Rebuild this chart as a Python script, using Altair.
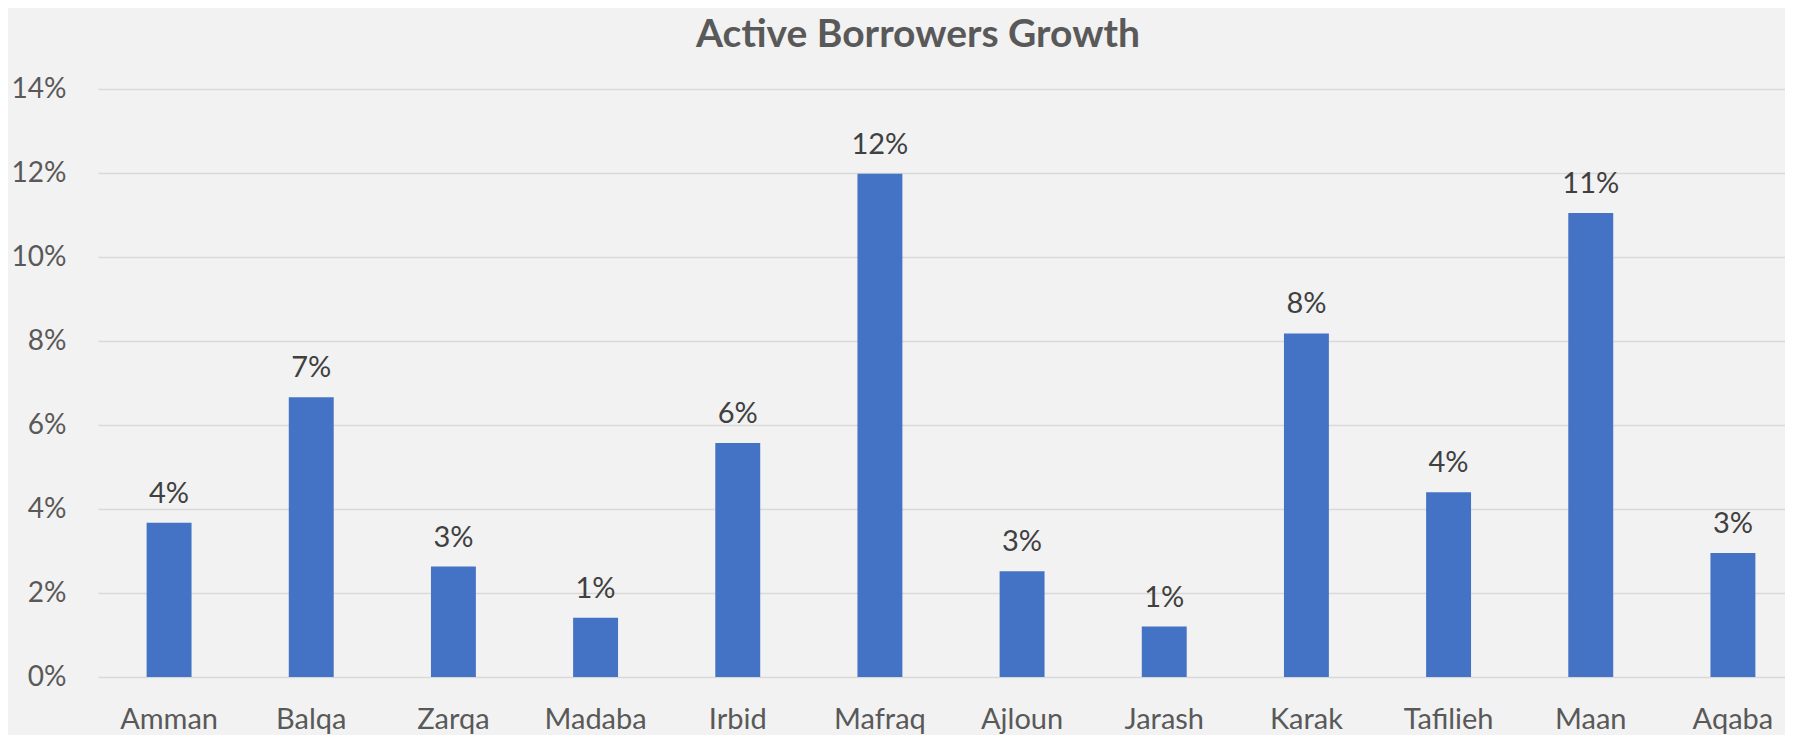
import altair as alt
import pandas as pd

regions = ["Amman", "Balqa", "Zarqa", "Madaba", "Irbid", "Mafraq",
           "Ajloun", "Jarash", "Karak", "Tafilieh", "Maan", "Aqaba"]
growth = [0.0367, 0.0666, 0.0263, 0.0141, 0.0557, 0.1198,
          0.0252, 0.0120, 0.0818, 0.0440, 0.1105, 0.0295]
y_ticks = [0, 0.02, 0.04, 0.06, 0.08, 0.10, 0.12, 0.14]
chart_title = ["Active Borrowers Growth"]

df = pd.DataFrame({"region": regions, "growth": growth})
title_df = pd.DataFrame({"t": chart_title})

FONT = "Lato"

x = alt.X(
    "region:N", sort=regions, title=None,
    scale=alt.Scale(range=[0, 1706], paddingInner=0.684, paddingOuter=0.342),
    axis=alt.Axis(labelAngle=0, ticks=False, tickSize=0, domain=False, grid=False,
                  labelFont=FONT, labelFontSize=29, labelColor="#595959",
                  labelPadding=51, labelBaseline="alphabetic"),
)
y = alt.Y(
    "growth:Q", title=None,
    scale=alt.Scale(domain=[0, 0.14], nice=False),
    axis=alt.Axis(values=y_ticks, format=".0%", grid=True, gridColor="#D9D9D9",
                  gridWidth=1.7, domain=False, ticks=False, tickSize=0,
                  labelFont=FONT, labelFontSize=28, labelColor="#595959",
                  labelPadding=32, labelBaseline="middle"),
)

base = alt.Chart(df)
bars = base.mark_bar(color="#4472C4").encode(x=x, y=y)
labels = base.mark_text(dy=-20, baseline="alphabetic", fontSize=29,
                        font=FONT, color="#404040").encode(
    x=x, y=y, text=alt.Text("growth:Q", format=".0%"))

title = alt.Chart(title_df).mark_text(
    font=FONT, fontSize=39, fontWeight="bold", color="#595959",
    align="center", baseline="alphabetic").encode(
    x=alt.value(820), y=alt.value(-42), text="t:N")

chart = (bars + labels + title).properties(
    width=1687, height=588,
    background="#F2F2F2",
    padding={"left": 90, "top": 81, "right": 0, "bottom": 58},
    autosize=alt.AutoSizeParams(type="none"),
).configure_view(stroke=None)

chart.save("out.html", embed_options={"renderer": "svg", "actions": False})
